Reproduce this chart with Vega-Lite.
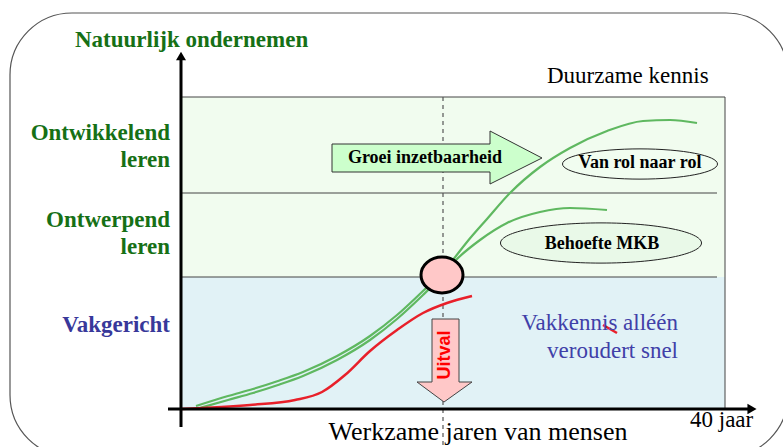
{
  "$schema": "https://vega.github.io/schema/vega-lite/v6.json",
  "width": 783,
  "height": 447,
  "padding": 0,
  "autosize": {"type": "none"},
  "background": "white",
  "config": {"view": {"stroke": null}},
  "encoding": {
    "x": {"field": "x", "type": "quantitative", "scale": {"domain": [0, 783], "nice": false, "zero": false}, "axis": null},
    "y": {"field": "y", "type": "quantitative", "scale": {"domain": [0, 447], "nice": false, "zero": false, "reverse": true}, "axis": null}
  },
  "layer": [
    {
      "data": {"values": [{"x": 10, "x2": 788, "y": 13, "y2": 457}]},
      "mark": {"type": "rect", "cornerRadius": 62, "fill": null, "fillOpacity": 0, "stroke": "#555555", "strokeWidth": 1.2},
      "encoding": {"x2": {"field": "x2"}, "y2": {"field": "y2"}}
    },
    {
      "data": {"values": [
        {"band": "Duurzame", "x": 181, "x2": 725, "y": 97, "y2": 277},
        {"band": "Vakgericht", "x": 181, "x2": 725, "y": 277, "y2": 409}
      ]},
      "mark": {"type": "rect"},
      "encoding": {
        "x2": {"field": "x2"}, "y2": {"field": "y2"},
        "fill": {"field": "band", "type": "nominal", "scale": {"domain": ["Duurzame", "Vakgericht"], "range": ["#f1fcef", "#e1f2f6"]}, "legend": null}
      }
    },
    {
      "data": {"values": [
        {"x": 181, "y": 97, "x2": 725, "y2": 97},
        {"x": 725, "y": 97, "x2": 725, "y2": 409},
        {"x": 181, "y": 193, "x2": 717, "y2": 193},
        {"x": 181, "y": 277, "x2": 717, "y2": 277}
      ]},
      "mark": {"type": "rule", "color": "#444444", "strokeWidth": 1},
      "encoding": {"x2": {"field": "x2"}, "y2": {"field": "y2"}}
    },
    {
      "data": {"values": [{"x": 443, "y": 97, "x2": 443, "y2": 447}]},
      "mark": {"type": "rule", "color": "#555555", "strokeWidth": 1.2, "strokeDash": [4, 4]},
      "encoding": {"x2": {"field": "x2"}, "y2": {"field": "y2"}}
    },
    {
      "data": {"values": [
        {"x": 332, "y": 144, "y2": 172},
        {"x": 490, "y": 144, "y2": 172},
        {"x": 490.01, "y": 131, "y2": 184},
        {"x": 542, "y": 158, "y2": 158}
      ]},
      "mark": {"type": "area", "orient": "vertical", "fill": "#ccffcc", "stroke": "#333333", "strokeWidth": 1, "opacity": 1},
      "encoding": {"y2": {"field": "y2"}}
    },
    {
      "data": {"values": [{"x": 640, "y": 164, "label": "Van rol naar rol"}]},
      "mark": {"type": "point", "filled": true, "fill": "#f1fdf0", "stroke": "#222222", "strokeWidth": 1, "opacity": 1, "size": 24025,
        "shape": "M-1,0C-1,-0.1077,-0.5523,-0.195,0,-0.195C0.5523,-0.195,1,-0.1077,1,0C1,0.1077,0.5523,0.195,0,0.195C-0.5523,0.195,-1,0.1077,-1,0Z"}
    },
    {
      "data": {"values": [{"x": 601, "y": 243, "label": "Behoefte MKB"}]},
      "mark": {"type": "point", "filled": true, "fill": "#e9f9e8", "stroke": "#222222", "strokeWidth": 1, "opacity": 1, "size": 40401,
        "shape": "M-1,0C-1,-0.1105,-0.5523,-0.2,0,-0.2C0.5523,-0.2,1,-0.1105,1,0C1,0.1105,0.5523,0.2,0,0.2C-0.5523,0.2,-1,0.1105,-1,0Z"}
    },
    {
      "data": {"values": [
        {"s": "a", "x": 196, "y": 406}, {"s": "a", "x": 228, "y": 396}, {"s": "a", "x": 253, "y": 389}, {"s": "a", "x": 278, "y": 381},
        {"s": "a", "x": 303, "y": 372}, {"s": "a", "x": 337, "y": 356}, {"s": "a", "x": 370, "y": 336}, {"s": "a", "x": 397, "y": 315},
        {"s": "a", "x": 423, "y": 291}, {"s": "a", "x": 441, "y": 274}, {"s": "a", "x": 452, "y": 261}, {"s": "a", "x": 467, "y": 242},
        {"s": "a", "x": 487, "y": 219}, {"s": "a", "x": 510, "y": 193}, {"s": "a", "x": 540, "y": 167}, {"s": "a", "x": 570, "y": 148},
        {"s": "a", "x": 607, "y": 131}, {"s": "a", "x": 643, "y": 121}, {"s": "a", "x": 670, "y": 120}, {"s": "a", "x": 697, "y": 123},
        {"s": "b", "x": 200, "y": 408}, {"s": "b", "x": 228, "y": 400}, {"s": "b", "x": 253, "y": 393}, {"s": "b", "x": 278, "y": 385},
        {"s": "b", "x": 303, "y": 376}, {"s": "b", "x": 337, "y": 360}, {"s": "b", "x": 370, "y": 340}, {"s": "b", "x": 397, "y": 319},
        {"s": "b", "x": 423, "y": 295}, {"s": "b", "x": 441, "y": 277}, {"s": "b", "x": 456, "y": 260}, {"s": "b", "x": 480, "y": 240},
        {"s": "b", "x": 507, "y": 223}, {"s": "b", "x": 540, "y": 212}, {"s": "b", "x": 570, "y": 208}, {"s": "b", "x": 607, "y": 210}
      ]},
      "mark": {"type": "line", "interpolate": "monotone", "color": "#5fb860", "strokeWidth": 2.2},
      "encoding": {"detail": {"field": "s"}}
    },
    {
      "data": {"values": [
        {"s": "uitval", "x": 181, "y": 409}, {"s": "uitval", "x": 250, "y": 405}, {"s": "uitval", "x": 295, "y": 400},
        {"s": "uitval", "x": 322, "y": 392}, {"s": "uitval", "x": 345, "y": 375}, {"s": "uitval", "x": 370, "y": 351},
        {"s": "uitval", "x": 397, "y": 330}, {"s": "uitval", "x": 423, "y": 313}, {"s": "uitval", "x": 447, "y": 303},
        {"s": "uitval", "x": 472, "y": 296},
        {"s": "streep", "x": 603, "y": 325}, {"s": "streep", "x": 617, "y": 333}
      ]},
      "mark": {"type": "line", "interpolate": "monotone", "color": "#e8202a", "strokeWidth": 2.5},
      "encoding": {"detail": {"field": "s"}}
    },
    {
      "data": {"values": [{"x": 442, "y": 275}]},
      "mark": {"type": "point", "filled": true, "fill": "#ffc8c8", "stroke": "#000000", "strokeWidth": 3, "opacity": 1, "size": 1764,
        "shape": "M-1,0C-1,-0.4734,-0.5523,-0.857,0,-0.857C0.5523,-0.857,1,-0.4734,1,0C1,0.4734,0.5523,0.857,0,0.857C-0.5523,0.857,-1,0.4734,-1,0Z"}
    },
    {
      "data": {"values": [
        {"y": 319, "x": 432, "x2": 459},
        {"y": 382, "x": 432, "x2": 459},
        {"y": 382.01, "x": 417, "x2": 472},
        {"y": 402, "x": 444, "x2": 444}
      ]},
      "mark": {"type": "area", "orient": "horizontal", "fill": "#ffc8c8", "stroke": "#444444", "strokeWidth": 1, "opacity": 1},
      "encoding": {"x2": {"field": "x2"}}
    },
    {
      "data": {"values": [
        {"x": 181, "y": 56, "x2": 181, "y2": 427},
        {"x": 168, "y": 409, "x2": 750, "y2": 409}
      ]},
      "mark": {"type": "rule", "color": "#000000", "strokeWidth": 3},
      "encoding": {"x2": {"field": "x2"}, "y2": {"field": "y2"}}
    },
    {
      "data": {"values": [{"x": 181, "y": 56}]},
      "mark": {"type": "point", "shape": "triangle-up", "filled": true, "color": "#000000", "opacity": 1, "size": 100}
    },
    {
      "data": {"values": [{"x": 752, "y": 409}]},
      "mark": {"type": "point", "shape": "triangle-right", "filled": true, "color": "#000000", "opacity": 1, "size": 110}
    },
    {
      "data": {"values": [{"x": 75, "y": 47, "t": "Natuurlijk ondernemen"}]},
      "mark": {"type": "text", "align": "left", "baseline": "alphabetic", "font": "Times New Roman, Liberation Serif, DejaVu Serif, serif", "fontWeight": "bold", "fontSize": 23, "color": "#167016"},
      "encoding": {"text": {"field": "t"}}
    },
    {
      "data": {"values": [
        {"x": 170, "y": 140, "t": "Ontwikkelend"},
        {"x": 170, "y": 167, "t": "leren"},
        {"x": 170, "y": 227, "t": "Ontwerpend"},
        {"x": 170, "y": 254, "t": "leren"}
      ]},
      "mark": {"type": "text", "align": "right", "baseline": "alphabetic", "font": "Times New Roman, Liberation Serif, DejaVu Serif, serif", "fontWeight": "bold", "fontSize": 23, "color": "#167016"},
      "encoding": {"text": {"field": "t"}}
    },
    {
      "data": {"values": [{"x": 170, "y": 332, "t": "Vakgericht"}]},
      "mark": {"type": "text", "align": "right", "baseline": "alphabetic", "font": "Times New Roman, Liberation Serif, DejaVu Serif, serif", "fontWeight": "bold", "fontSize": 23, "color": "#38389a"},
      "encoding": {"text": {"field": "t"}}
    },
    {
      "data": {"values": [
        {"x": 547, "y": 83, "t": "Duurzame kennis"},
        {"x": 690, "y": 427, "t": "40 jaar"}
      ]},
      "mark": {"type": "text", "align": "left", "baseline": "alphabetic", "font": "Times New Roman, Liberation Serif, DejaVu Serif, serif", "fontSize": 23, "color": "#000000"},
      "encoding": {"text": {"field": "t"}}
    },
    {
      "data": {"values": [{"x": 478, "y": 440, "t": "Werkzame jaren van mensen"}]},
      "mark": {"type": "text", "align": "center", "baseline": "alphabetic", "font": "Times New Roman, Liberation Serif, DejaVu Serif, serif", "fontSize": 26, "color": "#000000"},
      "encoding": {"text": {"field": "t"}}
    },
    {
      "data": {"values": [
        {"x": 425, "y": 163, "t": "Groei inzetbaarheid"},
        {"x": 640, "y": 168, "t": "Van rol naar rol"},
        {"x": 602, "y": 249, "t": "Behoefte MKB"}
      ]},
      "mark": {"type": "text", "align": "center", "baseline": "alphabetic", "font": "Times New Roman, Liberation Serif, DejaVu Serif, serif", "fontWeight": "bold", "fontSize": 18, "color": "#000000"},
      "encoding": {"text": {"field": "t"}}
    },
    {
      "data": {"values": [
        {"x": 678, "y": 330, "t": "Vakkennis alléén"},
        {"x": 678, "y": 358, "t": "veroudert snel"}
      ]},
      "mark": {"type": "text", "align": "right", "baseline": "alphabetic", "font": "Times New Roman, Liberation Serif, DejaVu Serif, serif", "fontSize": 23, "color": "#4040a8"},
      "encoding": {"text": {"field": "t"}}
    },
    {
      "data": {"values": [{"x": 445, "y": 355, "t": "Uitval"}]},
      "mark": {"type": "text", "align": "center", "baseline": "middle", "angle": 270, "font": "Arial, Liberation Sans, sans-serif", "fontWeight": "bold", "fontSize": 18, "color": "#ff0000"},
      "encoding": {"text": {"field": "t"}}
    }
  ]
}
